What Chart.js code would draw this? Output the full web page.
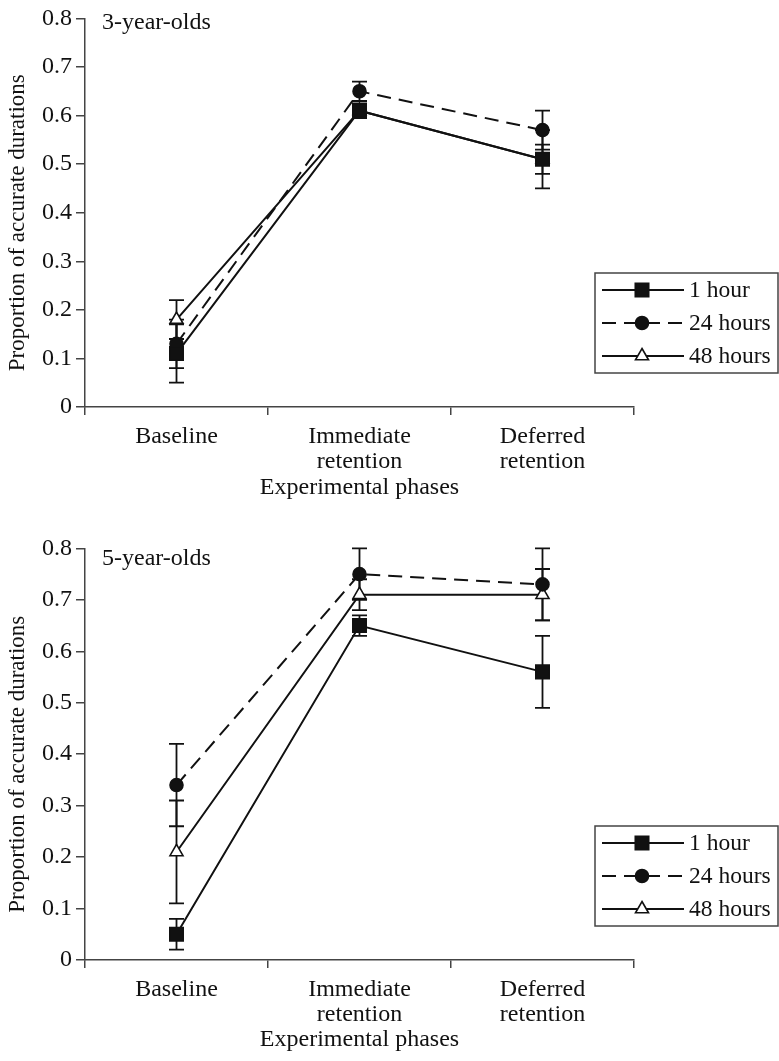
<!DOCTYPE html>
<html>
<head>
<meta charset="utf-8">
<script src="https://cdn.jsdelivr.net/npm/chart.js@4.4.1/dist/chart.umd.min.js"></script>
<style>
  body { margin: 0; background: #fff; }
  canvas { position: absolute; left: 0; }
  #chart3 { top: 0; }
  #chart5 { top: 530px; }
</style>
</head>
<body>
<canvas id="chart3" width="779" height="503"></canvas>
<canvas id="chart5" width="779" height="531"></canvas>
<script>
// =========================
// DATA
// =========================
const phases = ["Baseline", ["Immediate", "retention"], ["Deferred", "retention"]];
const delays = ["1 hour", "24 hours", "48 hours"];
const yTickLabels = ["0", "0.1", "0.2", "0.3", "0.4", "0.5", "0.6", "0.7", "0.8"];

// 3-year-olds
const threeHour1 = [0.11, 0.61, 0.51];
const threeHour24 = [0.13, 0.65, 0.57];
const threeHour48 = [0.18, 0.61, 0.51];
const threeErr1 = [0.06, 0.015, 0.06];
const threeErr24 = [0.05, 0.02, 0.04];
const threeErr48 = [0.04, 0.01, 0.03];

// 5-year-olds
const fiveHour1 = [0.05, 0.65, 0.56];
const fiveHour24 = [0.34, 0.75, 0.73];
const fiveHour48 = [0.21, 0.71, 0.71];
const fiveErr1 = [0.03, 0.02, 0.07];
const fiveErr24 = [0.08, 0.05, 0.07];
const fiveErr48 = [0.10, 0.03, 0.05];

// =========================
// STYLE
// =========================
const FONT = "'Liberation Serif', 'DejaVu Serif', serif";
const INK = "#111";
const AXIS = "#444";

Chart.defaults.font.family = FONT;
Chart.defaults.font.size = 24;
Chart.defaults.color = INK;

const markers = [
  { pointStyle: "rect", radius: 9.5, fill: INK, dash: [] },
  { pointStyle: "circle", radius: 6.5, fill: INK, dash: [14, 8] },
  { pointStyle: "triangle", radius: 7.5, fill: "#fff", dash: [] }
];

// error bars, drawn under the markers
const errorBars = {
  id: "errorBars",
  beforeDatasetsDraw(chart, args, opts) {
    const { ctx, scales: { x, y } } = chart;
    ctx.save();
    ctx.strokeStyle = INK;
    ctx.lineWidth = 1.8;
    chart.data.datasets.forEach((ds, i) => {
      const errs = opts.errors[i];
      ds.data.forEach((v, j) => {
        const px = x.getPixelForValue(j);
        const top = y.getPixelForValue(v + errs[j]);
        const bot = y.getPixelForValue(v - errs[j]);
        ctx.beginPath();
        ctx.moveTo(px, top); ctx.lineTo(px, bot);
        ctx.moveTo(px - 7.5, top); ctx.lineTo(px + 7.5, top);
        ctx.moveTo(px - 7.5, bot); ctx.lineTo(px + 7.5, bot);
        ctx.stroke();
      });
    });
    ctx.restore();
  }
};

// boxed legend at the right, panel label, y title
const boxLegend = {
  id: "boxLegend",
  afterDraw(chart, args, opts) {
    const { ctx, chartArea } = chart;
    const left = chartArea.right - 39;
    const right = chart.width - 1;
    const bottom = chartArea.bottom - 34;
    const top = bottom - 100;

    ctx.save();
    ctx.strokeStyle = AXIS;
    ctx.lineWidth = 1.5;
    ctx.strokeRect(left, top, right - left, bottom - top);

    chart.data.datasets.forEach((ds, i) => {
      const cy = top + 17 + i * 33;
      ctx.strokeStyle = INK;
      ctx.lineWidth = 2;
      ctx.setLineDash(markers[i].dash);
      ctx.beginPath();
      ctx.moveTo(left + 7, cy);
      ctx.lineTo(left + 89, cy);
      ctx.stroke();
      ctx.setLineDash([]);
      ctx.fillStyle = markers[i].fill;
      ctx.lineWidth = 1.6;
      Chart.helpers.drawPoint(ctx, {
        pointStyle: markers[i].pointStyle,
        radius: markers[i].radius,
        rotation: 0,
        borderWidth: 1.6
      }, left + 47, cy);
      ctx.fillStyle = INK;
      ctx.font = "23.5px " + FONT;
      ctx.textBaseline = "middle";
      ctx.textAlign = "left";
      ctx.fillText(ds.label, left + 94, cy + 1);
    });

    ctx.fillStyle = INK;
    ctx.font = "24px " + FONT;
    ctx.textBaseline = "alphabetic";
    ctx.textAlign = "left";
    ctx.fillText(opts.panel, chartArea.left + 17, chartArea.top + opts.panelY);

    // y axis title, sitting a little below the plot centre as in the print
    ctx.translate(18, (chartArea.top + chartArea.bottom) / 2 + 10);
    ctx.rotate(-Math.PI / 2);
    ctx.font = "23px " + FONT;
    ctx.textAlign = "center";
    ctx.textBaseline = "middle";
    ctx.fillText("Proportion of accurate durations", 0, 0);
    ctx.restore();
  }
};

function makeChart(id, panel, panelY, values, errors, padTop, plotBottom, titleCenter) {
  const canvas = document.getElementById(id);
  const H = canvas.height;

  return new Chart(canvas, {
    type: "line",
    data: {
      labels: phases,
      datasets: values.map((vals, i) => ({
        label: delays[i],
        data: vals,
        borderColor: INK,
        borderWidth: 2,
        borderDash: markers[i].dash,
        tension: 0,
        pointStyle: markers[i].pointStyle,
        pointRadius: markers[i].radius,
        pointHoverRadius: markers[i].radius,
        pointBackgroundColor: markers[i].fill,
        pointBorderColor: INK,
        pointBorderWidth: 1.6
      }))
    },
    options: {
      responsive: false,
      animation: false,
      events: [],
      layout: { padding: { top: padTop, right: 779 - 634, left: 0, bottom: 0 } },
      plugins: {
        legend: { display: false },
        tooltip: { enabled: false },
        errorBars: { errors },
        boxLegend: { panel, panelY }
      },
      scales: {
        x: {
          type: "category",
          offset: true,
          afterFit(scale) { scale.height = H - plotBottom; },
          grid: {
            offset: true,
            drawOnChartArea: false,
            tickLength: 8,
            color: AXIS,
            lineWidth: 1.5
          },
          border: { color: AXIS, width: 1.5 },
          ticks: { padding: 9, maxRotation: 0, autoSkip: false, font: { size: 24, lineHeight: 1.05 } },
          title: {
            display: true,
            text: "Experimental phases",
            font: { size: 24, lineHeight: 1.1 },
            padding: { top: 0, bottom: H - titleCenter - 13.2 }
          }
        },
        y: {
          min: 0,
          max: 0.8,
          afterFit(scale) { scale.width = 85; },
          afterBuildTicks(scale) {
            scale.ticks = yTickLabels.map((t, i) => ({ value: i / 10 }));
          },
          grid: {
            drawOnChartArea: false,
            tickLength: 9,
            color: AXIS,
            lineWidth: 1.5
          },
          border: { color: AXIS, width: 1.5 },
          ticks: {
            padding: 4,
            callback: (v, i) => yTickLabels[i]
          }
        }
      }
    },
    plugins: [errorBars, boxLegend]
  });
}

makeChart("chart3", "3-year-olds", 11,
  [threeHour1, threeHour24, threeHour48],
  [threeErr1, threeErr24, threeErr48],
  15, 407, 488);

makeChart("chart5", "5-year-olds", 17,
  [fiveHour1, fiveHour24, fiveHour48],
  [fiveErr1, fiveErr24, fiveErr48],
  17, 430, 510);
</script>
</body>
</html>
